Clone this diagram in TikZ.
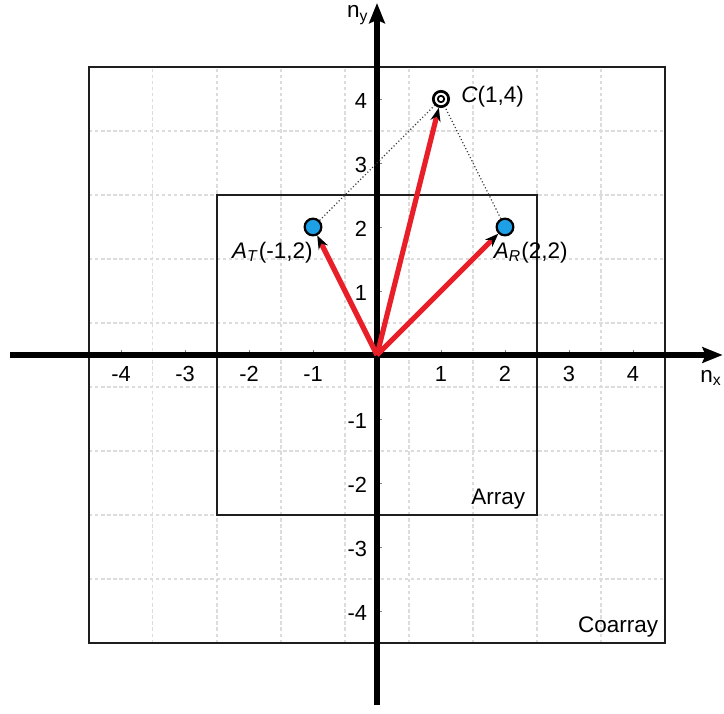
\documentclass[tikz,border=0pt]{standalone}
\usepackage{fontspec}
\setmainfont{Liberation Sans}
\usetikzlibrary{arrows.meta}
\definecolor{ptblue}{RGB}{30,160,230}
\definecolor{vecred}{RGB}{232,30,40}
\tikzset{
  gridline/.style={draw={rgb,255:red,220;green,220;blue,220}, line width=0.45pt, dash pattern=on 1.5pt off 1.2pt},
  boxline/.style={draw={rgb,255:red,30;green,30;blue,30}, line width=1.2pt},
  axisline/.style={line width=2.3pt, -{Stealth[length=9pt,width=7pt,inset=1.5pt]}},
  tickline/.style={draw=gray, line width=0.4pt},
  ticklab/.style={font=\fontsize{9.7}{11}\selectfont, inner sep=0pt},
  ptnode/.style={circle, draw=black, line width=1pt, fill=ptblue, minimum size=0.26cm, inner sep=0pt},
  cnode/.style={circle, draw=black, line width=1.2pt, fill=white, minimum size=0.24cm, inner sep=0pt},
  vecarrow/.style={draw=vecred, line width=2.3pt, -{Stealth[length=6pt,width=4.5pt,color=black]}},
  linkline/.style={draw={rgb,255:red,60;green,60;blue,60}, line width=0.5pt, densely dotted},
  lab/.style={font=\fontsize{10}{12}\selectfont, inner sep=0pt}
}
\begin{document}
\begin{tikzpicture}
\useasboundingbox (-5.8906,-5.5938) rectangle (5.4219,5.5469);
% grid
\foreach \v in {-4.5,-3.5,...,4.5} {
  \draw[gridline] (\v,-4.5) -- (\v,4.5);
  \draw[gridline] (-4.5,\v) -- (4.5,\v);
}
% boxes
\draw[boxline] (-4.5,-4.5) rectangle (4.5,4.5);
\draw[boxline] (-2.5,-2.5) rectangle (2.5,2.5);
\node[lab, anchor=east] (coarraylab) at (4.40,-4.25) {Coarray};
\node[lab, anchor=east] (arraylab) at (2.32,-2.25) {Array};
% ticks
\foreach \i in {-4,-3,-2,-1,1,2,3,4} {
  \draw[tickline] (\i,0) -- (\i,0.08);
  \draw[tickline] (0,\i) -- (0.08,\i);
}
% axes
\coordinate (xl) at (-5.73,0);
\coordinate (xr) at (5.40,0);
\coordinate (yb) at (0,-5.47);
\coordinate (yt) at (0,5.50);
\draw[axisline] (xl) -- (xr);
\draw[axisline] (yb) -- (yt);
\node[lab] (nx) at (5.22,-0.36) {n\textsubscript{x}};
\node[lab] (ny) at (-0.3,5.31) {n\textsubscript{y}};
% tick labels
\foreach \i in {-4,-3,-2,-1,1,2,3,4} {
  \node[ticklab] at (\i,-0.29) {\i};
  \node[ticklab, anchor=east] at (-0.15,\i-0.03) {\i};
}
% points
\coordinate (O) at (0,0);
\node[ptnode] (AT) at (-1,2) {};
\node[ptnode] (AR) at (2,2) {};
\node[cnode] (C) at (1,4) {};
\draw[black, line width=0.8pt] (C.center) circle (0.05);
% dotted links
\draw[linkline] (AT) -- (C);
\draw[linkline] (AR) -- (C);
% vectors
\draw[vecarrow] (O) -- (AT);
\draw[vecarrow] (O) -- (AR);
\draw[vecarrow] (O) -- (C);
% labels
\node[lab, anchor=east] (ATlab) at (-1.0,1.6) {\textit{A}\textsubscript{\textit{T}}(-1,2)};
\node[lab, anchor=west] (ARlab) at (1.82,1.6) {\textit{A}\textsubscript{\textit{R}}(2,2)};
\node[lab, anchor=west] (Clab) at (1.31,4.03) {\textit{C}(1,4)};
\end{tikzpicture}
\end{document}
